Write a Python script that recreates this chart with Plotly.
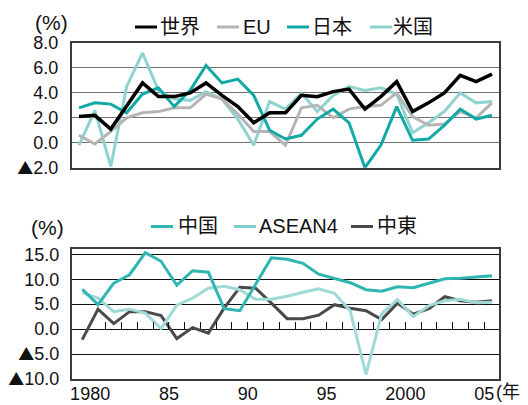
import plotly.graph_objects as go

# ---------------- data ----------------
years = list(range(1980, 2007))

world = [2.1, 2.2, 1.1, 2.9, 4.8, 3.7, 3.7, 4.0, 4.8, 3.8, 2.9, 1.6, 2.4, 2.4,
         3.8, 3.7, 4.1, 4.3, 2.7, 3.7, 4.9, 2.5, 3.2, 4.0, 5.4, 4.9, 5.5]
eu = [0.6, -0.1, 0.9, 2.0, 2.4, 2.5, 2.8, 2.8, 3.9, 3.5, 2.3, 0.9, 0.9, -0.2,
      2.8, 3.0, 2.0, 2.7, 2.9, 3.0, 4.0, 2.1, 1.4, 1.5, 2.5, 2.0, 3.2]
japan = [2.8, 3.2, 3.1, 2.4, 3.9, 4.4, 2.9, 4.2, 6.2, 4.8, 5.1, 3.8, 1.0, 0.3,
         0.6, 1.9, 2.7, 1.6, -2.0, -0.2, 2.9, 0.2, 0.3, 1.4, 2.7, 1.9, 2.2]
usa = [-0.2, 2.6, -1.9, 4.5, 7.2, 4.2, 3.5, 3.4, 4.1, 3.5, 1.9, -0.2, 3.3, 2.7,
       4.0, 2.5, 3.8, 4.5, 4.2, 4.4, 3.9, 0.8, 1.6, 2.5, 4.0, 3.2, 3.3]

china = [8.0, 4.9, 9.2, 10.9, 15.3, 13.6, 8.8, 11.7, 11.4, 4.1, 3.7, 9.0, 14.3, 14.0,
         13.2, 11.0, 10.1, 9.3, 7.9, 7.6, 8.5, 8.3, 9.2, 10.1, 10.2, 10.4, 10.7]
asean4 = [7.3, 6.2, 3.5, 4.0, 3.2, 0.1, 4.8, 6.2, 8.2, 8.6, 7.9, 6.0, 6.0, 6.6,
          7.4, 8.1, 7.2, 3.7, -9.1, 3.1, 5.9, 2.5, 4.7, 5.7, 6.0, 5.3, 5.4]
mideast = [-2.1, 4.0, 1.1, 3.5, 3.5, 2.7, -1.9, 0.3, -0.8, 4.2, 8.4, 8.2, 5.2, 2.1,
           2.1, 2.8, 4.9, 4.2, 3.7, 1.9, 5.2, 3.0, 4.1, 6.5, 5.7, 5.4, 5.7]

TRI = "<span style='font-family:Noto Sans CJK JP;font-size:16px'>▲</span>"
top_ticks = [-2, 0, 2, 4, 6, 8]
top_ticktext = [TRI + "2.0", "0.0", "2.0", "4.0", "6.0", "8.0"]
bot_ticks = [-10, -5, 0, 5, 10, 15]
bot_ticktext = [TRI + "10.0", TRI + "5.0", "0.0", "5.0", "10.0", "15.0"]
x_tickvals = [1980.5, 1985.5, 1990.5, 1995.5, 2000.5, 2005.5]
x_ticktext = ["1980", "85", "90", "95", "2000", "05"]
minor_ticks = [y + 0.5 for y in range(1981, 2006)]

top_series = [("米国", usa, "#8fd3cf", 3), ("EU", eu, "#b5b5b5", 3),
              ("日本", japan, "#10a9a5", 3), ("世界", world, "#000000", 3.5)]
bot_series = [("中東", mideast, "#4a4a4a", 3), ("ASEAN4", asean4, "#9fdad6", 3),
              ("中国", china, "#2fb6b0", 3)]

# ---------------- layout geometry ----------------
OFF = 8  # page body margin
W, H = 528 - OFF, 405 - OFF
ML, MR, MT, MB = 64, 29, 35, 26
PW, PH = W - ML - MR, H - MT - MB


def px(xp):
    """page pixel x -> paper fraction"""
    return (xp - OFF - ML) / PW


def py(yp):
    """page pixel y -> paper fraction"""
    return (H - MB - (yp - OFF)) / PH


FONT = "Liberation Sans, Arial, Noto Sans CJK JP, sans-serif"

fig = go.Figure()
for name, vals, col, w in top_series:
    fig.add_trace(go.Scatter(x=years, y=vals, mode="lines", name=name,
                             line=dict(color=col, width=w), xaxis="x", yaxis="y",
                             showlegend=False))
for name, vals, col, w in bot_series:
    fig.add_trace(go.Scatter(x=years, y=vals, mode="lines", name=name,
                             line=dict(color=col, width=w), xaxis="x2", yaxis="y2",
                             showlegend=False))
fig.add_trace(go.Scatter(x=[None], y=[None], xaxis="x3", yaxis="y2",
                         showlegend=False, hoverinfo="skip"))

top_dom = [py(167.7), 1.0]
bot_dom = [0.0, py(249.3)]
zero_pos = bot_dom[0] + (bot_dom[1] - bot_dom[0]) * (0 - (-10)) / (16 - (-10))

axis_common = dict(showline=True, mirror=True, linecolor="#3a3a3a", linewidth=2,
                   zeroline=False, automargin=False,
                   tickfont=dict(family=FONT, size=18, color="#111"))

fig.update_layout(
    template="none",
    width=W, height=H,
    margin=dict(l=ML, r=MR, t=MT, b=MB, autoexpand=False),
    paper_bgcolor="white", plot_bgcolor="white",
    showlegend=False,
    xaxis=dict(domain=[0, 1], anchor="y", range=[1979.56, 2006.44],
               showticklabels=False, showgrid=False, ticks="", **axis_common),
    yaxis=dict(domain=top_dom, anchor="x", range=[-2, 8], tickvals=top_ticks,
               ticktext=top_ticktext, showgrid=True, gridcolor="#707070", gridwidth=1,
               ticks="", ticklabelstandoff=8, **axis_common),
    xaxis2=dict(domain=[0, 1], anchor="y2", range=[1979.35, 2006.44],
                tickvals=x_tickvals, ticktext=x_ticktext, showgrid=False, ticks="",
                ticklabelstandoff=-3, **axis_common),
    yaxis2=dict(domain=bot_dom, anchor="x2", range=[-10, 16], tickvals=bot_ticks,
                ticktext=bot_ticktext, showgrid=True, gridcolor="#111", gridwidth=1,
                ticks="", ticklabelstandoff=7, **axis_common),
    xaxis3=dict(overlaying="x2", anchor="free", position=zero_pos, side="bottom",
                range=[1979.35, 2006.44], tickvals=minor_ticks, ticks="inside",
                ticklen=7, tickwidth=1, tickcolor="#111", showticklabels=False,
                showline=False, showgrid=False, zeroline=False, automargin=False),
)

# ---------------- manual legends ----------------
top_legend = [("世界", "#000000", 135, 160), ("EU", "#b5b5b5", 217, 243),
              ("日本", "#10a9a5", 287, 312), ("米国", "#8fd3cf", 370, 393)]
bot_legend = [("中国", "#2fb6b0", 151, 178), ("ASEAN4", "#7ccfca", 234, 259),
              ("中東", "#4a4a4a", 351, 377)]
shapes, annos = [], []
for items, yc in ((top_legend, 27), (bot_legend, 226.5)):
    for text, col, x0, xt in items:
        shapes.append(dict(type="line", xref="paper", yref="paper",
                           x0=px(x0), x1=px(x0 + 22), y0=py(yc), y1=py(yc),
                           line=dict(color=col, width=3)))
        annos.append(dict(text=text, xref="paper", yref="paper", x=px(xt - 2), y=py(yc),
                          xanchor="left", yanchor="middle", showarrow=False,
                          font=dict(family=FONT, size=20, color="#111")))

annos.append(dict(text="(%)", xref="paper", yref="paper", x=px(51), y=py(22),
                  xanchor="center", yanchor="middle", showarrow=False,
                  font=dict(family=FONT, size=21, color="#111")))
annos.append(dict(text="(%)", xref="paper", yref="paper", x=px(47), y=py(227),
                  xanchor="center", yanchor="middle", showarrow=False,
                  font=dict(family=FONT, size=21, color="#111")))
annos.append(dict(text="(年)", xref="paper", yref="paper", x=px(494), y=py(392),
                  xanchor="left", yanchor="middle", showarrow=False,
                  font=dict(family=FONT, size=18, color="#111")))

fig.update_layout(shapes=shapes, annotations=annos)
fig.write_html("out.html")
